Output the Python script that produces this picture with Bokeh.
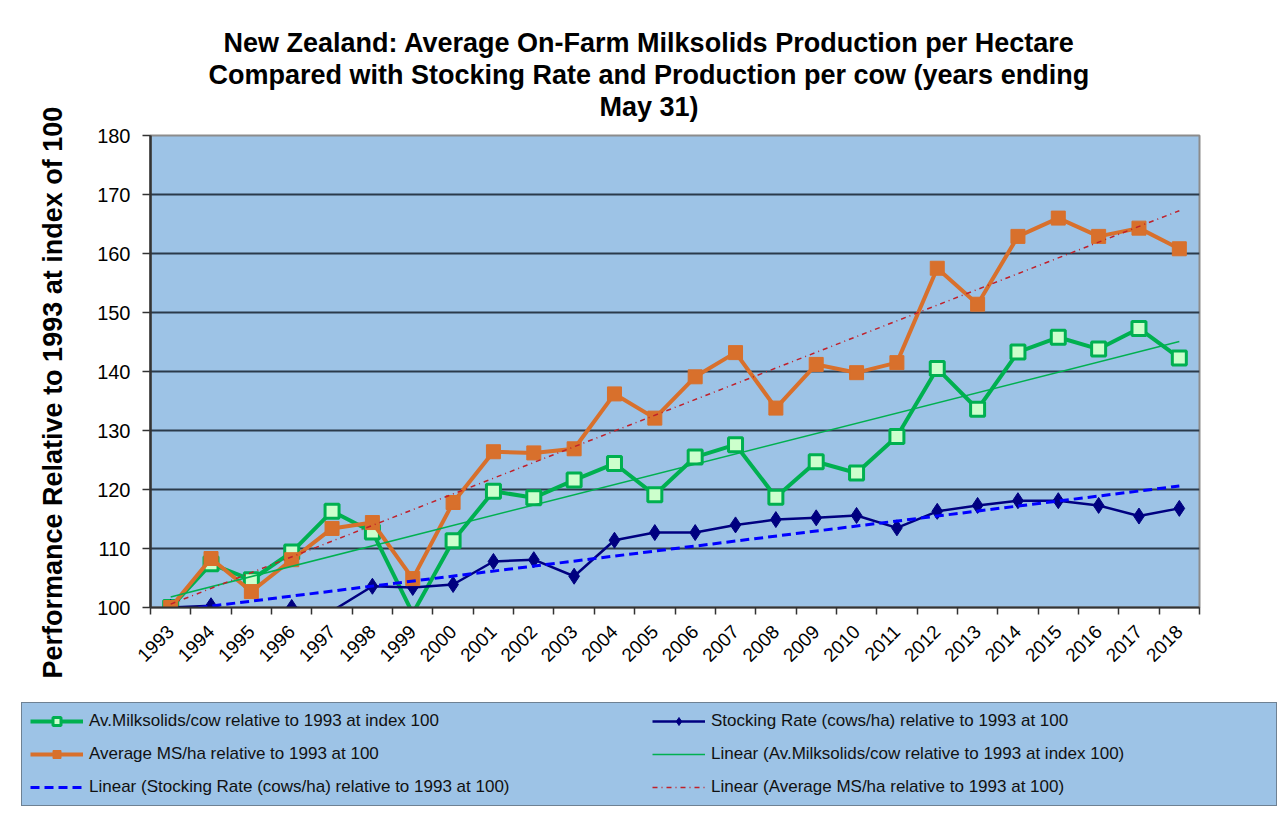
import numpy as np
from bokeh.plotting import figure
from bokeh.layouts import column
from bokeh.models import (Range1d, FixedTicker, Legend, LegendItem, ColumnDataSource,
                          CDSView, BooleanFilter, Title)
from bokeh.embed import file_html
from bokeh.resources import INLINE

years = [str(y) for y in range(1993, 2019)]
ms_per_cow = [100.0, 107.4, 104.7, 109.4, 116.3, 112.8, 99.0, 111.3, 119.7, 118.6,
              121.6, 124.4, 119.1, 125.5, 127.6, 118.7, 124.7, 122.8, 129.0, 140.5,
              133.6, 143.3, 145.8, 143.8, 147.3, 142.3]
ms_per_ha = [100.0, 108.3, 102.7, 108.1, 113.4, 114.4, 104.9, 117.8, 126.4, 126.2,
             126.9, 136.2, 132.1, 139.1, 143.2, 133.8, 141.2, 139.8, 141.5, 157.5,
             151.4, 162.9, 166.0, 162.9, 164.3, 160.8]
stocking = [100.0, 100.3, 98.5, 100.0, 99.4, 103.6, 103.4, 103.9, 107.8, 108.1,
            105.3, 111.4, 112.7, 112.7, 114.0, 114.9, 115.2, 115.6, 113.5, 116.3,
            117.3, 118.1, 118.1, 117.3, 115.5, 116.8]

labels = ["Av.Milksolids/cow relative to 1993 at index 100",
          "Stocking Rate (cows/ha) relative to 1993 at 100",
          "Average MS/ha relative to 1993 at 100",
          "Linear (Av.Milksolids/cow relative to 1993 at index 100)",
          "Linear (Stocking Rate (cows/ha) relative to 1993 at 100)",
          "Linear (Average MS/ha relative to 1993 at 100)"]

title_lines = ["New Zealand: Average On-Farm Milksolids Production per Hectare",
               "Compared with Stocking Rate and Production per cow (years ending",
               "May 31)"]
y_label = "Performance Relative to 1993 at index of 100"

FONT = "Liberation Sans"
BG = "#9DC3E6"
GREEN = "#00B050"
ORANGE = "#D8702C"
NAVY = "#000080"
TBLUE = "#0000FF"
TRED = "#C0202A"

x = np.arange(1, len(years) + 1)
YMIN, YMAX = 100, 180

p = figure(width=1282, height=700, output_backend="svg", toolbar_location=None,
           x_range=Range1d(0.5, len(years) + 0.5), y_range=Range1d(YMIN, YMAX),
           min_border_left=150, min_border_right=83, min_border_top=135,
           min_border_bottom=93, title=title_lines[0])
p.frame_align = False

title_style = dict(text_font=FONT, text_font_size="27px", text_font_style="bold",
                   text_color="black", align="left")
p.title.update(offset=73, standoff=0, **title_style)
# small spacer between the plot frame and the last title line
p.add_layout(Title(text=" ", text_font_size="1px", standoff=11), "above")
p.add_layout(Title(text=title_lines[2], offset=449, standoff=0, **title_style), "above")
p.add_layout(Title(text=title_lines[1], offset=58, standoff=0, **title_style), "above")

p.add_layout(Title(text=y_label, text_font=FONT, text_font_size="27px",
                   text_font_style="bold", text_color="black", align="left",
                   offset=-71, standoff=54), "left")

p.background_fill_color = BG
p.border_fill_color = "white"
p.outline_line_color = "#8C8C8C"
p.outline_line_width = 2

# axes
xa = p.xaxis[0]
xa.ticker = FixedTicker(ticks=list(x), minor_ticks=list(np.arange(0.5, len(years) + 1, 1.0)))
xa.major_label_overrides = {int(i): y for i, y in zip(x, years)}
xa.major_label_orientation = np.pi / 4
xa.major_label_text_font = FONT
xa.major_label_text_font_size = "19px"
xa.major_label_text_color = "black"
xa.major_tick_out = 0
xa.major_tick_in = 0
xa.minor_tick_out = 7
xa.minor_tick_in = 0
xa.minor_tick_line_color = "#333333"
xa.minor_tick_line_width = 1.5
xa.axis_line_color = "#333333"
xa.axis_line_width = 2
xa.major_label_standoff = 14

ya = p.yaxis[0]
ya.ticker = FixedTicker(ticks=list(range(YMIN, YMAX + 1, 10)))
ya.major_label_text_font = FONT
ya.major_label_text_font_size = "20px"
ya.major_label_text_color = "black"
ya.major_tick_out = 8
ya.major_tick_in = 0
ya.major_tick_line_color = "#333333"
ya.major_tick_line_width = 1.5
ya.minor_tick_line_color = None
ya.axis_line_color = "#333333"
ya.axis_line_width = 2.5
ya.major_label_standoff = 12

p.xgrid.grid_line_color = None
p.ygrid.grid_line_color = "#2B3A4A"
p.ygrid.grid_line_width = 2
p.ygrid.ticker = FixedTicker(ticks=list(range(YMIN, YMAX + 1, 10)))

src = ColumnDataSource(dict(x=x, cow=ms_per_cow, ha=ms_per_ha, sr=stocking))

def inrange(vals):
    return CDSView(filter=BooleanFilter([bool(v >= YMIN) for v in vals]))

# trend lines (least squares, like Excel's linear trendline)
def trend(vals):
    k, b = np.polyfit(x, vals, 1)
    xs = [x[0], x[-1]]
    return xs, [k * xi + b for xi in xs]

s_tcow = dict(line_color=GREEN, line_width=1.5)
s_tsr = dict(line_color=TBLUE, line_width=3, line_dash="9 5")
s_tha = dict(line_color=TRED, line_width=1.5, line_dash="5 4 1 4")
s_sr_l = dict(line_color=NAVY, line_width=2.5)
s_sr_m = dict(marker="diamond", size=16, fill_color=NAVY, line_color=NAVY)
s_ha_l = dict(line_color=ORANGE, line_width=4)
s_ha_m = dict(marker="square", size=14, fill_color=ORANGE, line_color=ORANGE)
s_cow_l = dict(line_color=GREEN, line_width=4)
s_cow_m = dict(marker="square", size=14, fill_color="#CCFFCC", line_color=GREEN, line_width=3)

p.line("x", "cow", source=src, **s_cow_l)
p.scatter("x", "cow", source=src, view=inrange(ms_per_cow), **s_cow_m)
p.line("x", "sr", source=src, **s_sr_l)
p.scatter("x", "sr", source=src, view=inrange(stocking), **s_sr_m)
p.line("x", "ha", source=src, **s_ha_l)
p.scatter("x", "ha", source=src, view=inrange(ms_per_ha), **s_ha_m)

tx, ty = trend(ms_per_cow)
p.line(tx, ty, **s_tcow)
tx, ty = trend(stocking)
p.line(tx, ty, **s_tsr)
tx, ty = trend(ms_per_ha)
p.line(tx, ty, **s_tha)

# ---- legend strip (separate figure so the box can span the full width) ----
LH = 112
q = figure(width=1282, height=LH, output_backend="svg", toolbar_location=None,
           x_range=Range1d(0, 1), y_range=Range1d(0, 1), x_axis_type=None, y_axis_type=None,
           min_border=0, min_border_left=0, min_border_right=0, min_border_top=0,
           min_border_bottom=0, outline_line_color=None)
q.frame_align = False
q.background_fill_color = "white"
q.border_fill_color = "white"
q.grid.visible = False

# legend sample renderers: placed outside the visible range, only their styles are shown
hx, hy = [-5.0, -4.0], [-5.0, -4.0]
lg_cow = [q.line(hx, hy, **s_cow_l), q.scatter(hx, hy, **s_cow_m)]
lg_sr = [q.line(hx, hy, **s_sr_l), q.scatter(hx, hy, **s_sr_m)]
lg_ha = [q.line(hx, hy, **s_ha_l), q.scatter(hx, hy, **s_ha_m)]
lg_tcow = [q.line(hx, hy, **s_tcow)]
lg_tsr = [q.line(hx, hy, **s_tsr)]
lg_tha = [q.line(hx, hy, **s_tha)]

common = dict(label_text_font=FONT, label_text_font_size="17px", label_text_color="#111111",
              glyph_width=53, glyph_height=20, label_height=20, label_standoff=6,
              spacing=13, padding=8, margin=0, orientation="vertical")

legA = Legend(items=[LegendItem(label=labels[0], renderers=lg_cow),
                     LegendItem(label=labels[2], renderers=lg_ha),
                     LegendItem(label=labels[4], renderers=lg_tsr)],
              location=(21, 6), label_width=1179,
              background_fill_color=BG, background_fill_alpha=1.0,
              border_line_color="#404040", border_line_width=1.5, **common)
legB = Legend(items=[LegendItem(label=labels[1], renderers=lg_sr),
                     LegendItem(label=labels[3], renderers=lg_tcow),
                     LegendItem(label=labels[5], renderers=lg_tha)],
              location=(652, 15), background_fill_alpha=0.0, border_line_color=None,
              **common)
q.add_layout(legA, "center")
q.add_layout(legB, "center")

layout = column(p, q, spacing=0)
open("out.html", "w").write(file_html(layout, INLINE))
